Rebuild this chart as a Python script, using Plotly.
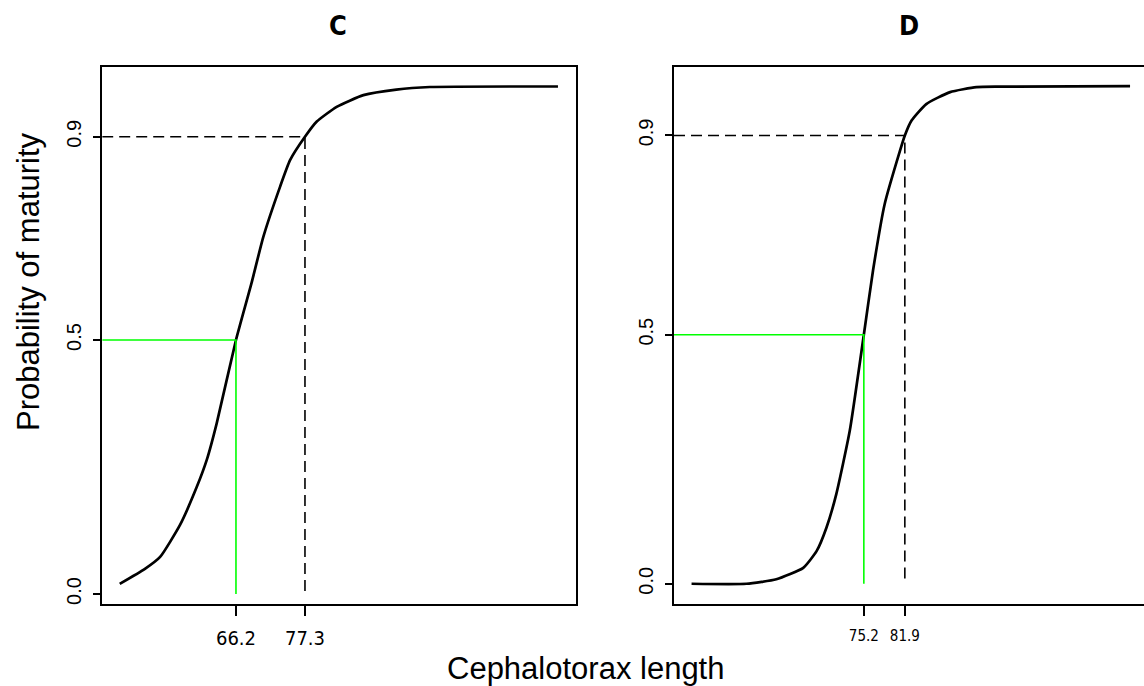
import plotly.graph_objects as go
from plotly.subplots import make_subplots

# ---- data ----
c_len = [47.5, 51.5, 54.0, 57.2, 59.9, 61.5, 63.1, 66.2, 68.7, 70.6, 73.3, 74.9,
         77.3, 79.2, 82.4, 86.7, 92.0, 97.4, 118.0]
c_prob = [0.020, 0.049, 0.073, 0.136, 0.211, 0.264, 0.336, 0.500, 0.612, 0.703, 0.802,
          0.854, 0.900, 0.930, 0.959, 0.982, 0.993, 0.998, 0.999]
c_l50, c_l90 = 66.2, 77.3

d_len = [47.05, 56.0, 60.9, 65.3, 67.5, 69.1, 70.7, 72.9, 75.2, 76.7, 78.6, 81.1,
         81.9, 83.0, 85.4, 89.3, 93.6, 97.4, 118.7]
d_prob = [0.0, 0.0, 0.009, 0.032, 0.066, 0.113, 0.180, 0.307, 0.500, 0.629, 0.762,
          0.869, 0.900, 0.930, 0.963, 0.987, 0.997, 0.998, 0.999]
d_l50, d_l90 = 75.2, 81.9

y_ticks = [0.0, 0.5, 0.9]
y_tick_text = ["0.0", "0.5", "0.9"]
panel_titles = ["C", "D"]

W, H = 1144, 686
c_xrange = [44.68, 120.82]
d_xrange = [44.18, 120.98]
c_yrange = [-0.019, 1.038]
d_yrange = [-0.040, 1.038]

NARROW = "DejaVu Sans Condensed, Liberation Sans Narrow, Liberation Sans, Arial"
SANS = "Liberation Sans, Arial"

fig = make_subplots(rows=1, cols=2)

GREEN = "#00ff00"
DASH = "11px,6px"


def add_panel(col, xs, ys, l50, l90, xr):
    fig.add_trace(go.Scatter(x=xs, y=ys, mode="lines",
                             line=dict(color="black", width=2.7, shape="spline", smoothing=0.5),
                             showlegend=False, hoverinfo="skip"), row=1, col=col)
    # green 50% lines
    fig.add_trace(go.Scatter(x=[xr[0], l50, l50], y=[0.5, 0.5, 0.0], mode="lines",
                             line=dict(color=GREEN, width=1.6),
                             showlegend=False, hoverinfo="skip"), row=1, col=col)
    # dashed 90% lines
    fig.add_trace(go.Scatter(x=[xr[0], l90, l90], y=[0.9, 0.9, 0.0], mode="lines",
                             line=dict(color="black", width=1.6, dash=DASH),
                             showlegend=False, hoverinfo="skip"), row=1, col=col)


add_panel(1, c_len, c_prob, c_l50, c_l90, c_xrange)
add_panel(2, d_len, d_prob, d_l50, d_l90, d_xrange)

ydom = [1 - 603.7 / H, 1 - 66.7 / H]
axis_common = dict(showgrid=False, zeroline=False, showline=True, linecolor="black",
                   linewidth=1.6, ticks="outside", tickcolor="black", tickwidth=1.6)

fig.update_xaxes(**axis_common, domain=[102.2 / W, 575.5 / W], range=c_xrange,
                 tickvals=[c_l50, c_l90], ticktext=[str(c_l50), str(c_l90)],
                 ticklen=10, mirror=True, ticklabelstandoff=5,
                 tickfont=dict(family=NARROW, size=20, color="black"),
                 row=1, col=1)
fig.update_xaxes(**axis_common, domain=[674 / W, 1.0], range=d_xrange,
                 tickvals=[d_l50, d_l90], ticktext=[str(d_l50), str(d_l90)],
                 ticklen=10, mirror=True, ticklabelstandoff=7,
                 tickfont=dict(family=NARROW, size=15, color="black"),
                 row=1, col=2)
fig.update_yaxes(**axis_common, domain=ydom, range=c_yrange,
                 tickvals=y_ticks, ticktext=y_tick_text, ticklen=7, mirror=True,
                 tickangle=-90, ticklabelstandoff=4,
                 tickfont=dict(family=SANS, size=20, color="black"),
                 row=1, col=1)
fig.update_yaxes(**axis_common, domain=ydom, range=d_yrange,
                 tickvals=y_ticks, ticktext=y_tick_text, ticklen=7, mirror=False,
                 tickangle=-90, ticklabelstandoff=4,
                 tickfont=dict(family=SANS, size=20, color="black"),
                 row=1, col=2)

annotations = [
    dict(text="<b>" + panel_titles[0] + "</b>", x=338 / W, y=1 - 25 / H, xref="paper", yref="paper",
         xanchor="center", yanchor="middle", showarrow=False,
         font=dict(family=NARROW, size=27, color="black")),
    dict(text="<b>" + panel_titles[1] + "</b>", x=909 / W, y=1 - 25 / H, xref="paper", yref="paper",
         xanchor="center", yanchor="middle", showarrow=False,
         font=dict(family=NARROW, size=27, color="black")),
    dict(text="Probability of maturity", x=28 / W, y=1 - 282 / H, xref="paper", yref="paper",
         xanchor="center", yanchor="middle", showarrow=False, textangle=-90,
         font=dict(family=SANS, size=31, color="black")),
    dict(text="Cephalotorax length", x=586 / W, y=1 - 668 / H, xref="paper", yref="paper",
         xanchor="center", yanchor="middle", showarrow=False,
         font=dict(family=SANS, size=31, color="black")),
]

fig.update_layout(width=W, height=H, margin=dict(l=0, r=0, t=0, b=0),
                  plot_bgcolor="white", paper_bgcolor="white",
                  annotations=annotations, showlegend=False)

fig.write_html("out.html", config={"displayModeBar": False},
               post_script="document.body.style.margin='0';document.body.style.overflow='hidden';")
